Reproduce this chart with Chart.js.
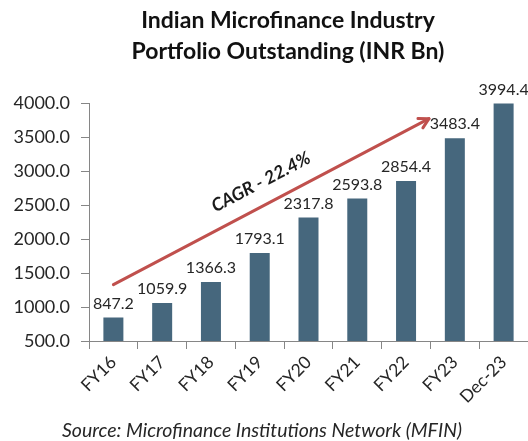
<!DOCTYPE html>
<html>
<head>
<meta charset="utf-8">
<script src="https://cdn.jsdelivr.net/npm/chart.js@4.4.1/dist/chart.umd.min.js"></script>
<style>
  html, body { margin: 0; padding: 0; background: #fff; }
  #wrap { width: 528px; height: 441px; position: relative; }
</style>
</head>
<body>
<div id="wrap"><canvas id="myChart"></canvas></div>
<script>
// Data
const categories = ['FY16', 'FY17', 'FY18', 'FY19', 'FY20', 'FY21', 'FY22', 'FY23', 'Dec-23'];
const portfolio = [847.2, 1059.9, 1366.3, 1793.1, 2317.8, 2593.8, 2854.4, 3483.4, 3994.4];
const yMin = 500;
const yMax = 4000;
const yStep = 500;

const titleLines = ['Indian Microfinance Industry', 'Portfolio Outstanding (INR Bn)'];
const sourceNote = 'Source: Microfinance Institutions Network (MFIN)';
const cagrLabel = 'CAGR - 22.4%';
// arrow anchors in data space: [category index, value]
const cagrFrom = [0, 1330];
const cagrTo = [6.47, 3770];

const textColor = '#262626';
const barColor = '#46677d';
const arrowColor = '#c0504d';
const axisColor = '#868686';

// labels, arrow, title and source drawn on the canvas
const decorations = {
    id: 'decorations',
    afterDatasetsDraw(chart) {
        const ctx = chart.ctx;
        const xs = chart.scales.x;
        const ys = chart.scales.y;

        ctx.save();

        // CAGR arrow
        const x1 = xs.getPixelForValue(cagrFrom[0]);
        const y1 = ys.getPixelForValue(cagrFrom[1]);
        const x2 = xs.getPixelForValue(cagrTo[0]);
        const y2 = ys.getPixelForValue(cagrTo[1]);
        const ang = Math.atan2(y2 - y1, x2 - x1);

        ctx.strokeStyle = arrowColor;
        ctx.lineWidth = 3;
        ctx.lineCap = 'round';
        ctx.lineJoin = 'round';
        ctx.beginPath();
        ctx.moveTo(x1, y1);
        ctx.lineTo(x2, y2);
        ctx.stroke();

        const head = 11;
        ctx.beginPath();
        ctx.moveTo(x2 - head * Math.cos(ang - 0.5), y2 - head * Math.sin(ang - 0.5));
        ctx.lineTo(x2, y2);
        ctx.lineTo(x2 - head * Math.cos(ang + 0.5), y2 - head * Math.sin(ang + 0.5));
        ctx.stroke();

        // CAGR text, above the arrow's midpoint
        const mx = (x1 + x2) / 2 + 22 * Math.sin(ang);
        const my = (y1 + y2) / 2 - 22 * Math.cos(ang);
        ctx.translate(mx, my);
        ctx.rotate(ang);
        ctx.font = 'italic bold 18px Lato';
        ctx.fillStyle = '#1a1a1a';
        ctx.textAlign = 'center';
        ctx.textBaseline = 'middle';
        ctx.fillText(cagrLabel, 0, 0);
        ctx.setTransform(1, 0, 0, 1, 0, 0);

        // value labels
        ctx.font = '16px Lato';
        ctx.fillStyle = textColor;
        ctx.textAlign = 'center';
        ctx.textBaseline = 'middle';
        chart.getDatasetMeta(0).data.forEach((bar, i) => {
            ctx.fillText(portfolio[i].toFixed(1), bar.x, bar.y - 14);
        });

        // title
        ctx.font = 'bold 23px Lato';
        ctx.fillStyle = '#111';
        ctx.textBaseline = 'alphabetic';
        titleLines.forEach((line, i) => {
            ctx.fillText(line, 288, 28 + i * 31);
        });

        // source
        ctx.font = 'italic 19.5px Lato';
        ctx.fillStyle = textColor;
        ctx.fillText(sourceNote, 262, 437);

        ctx.restore();
    }
};

const ctx = document.getElementById('myChart').getContext('2d');
const myChart = new Chart(ctx, {
    type: 'bar',
    data: {
        labels: categories,
        datasets: [{
            label: 'Portfolio Outstanding',
            data: portfolio,
            backgroundColor: barColor,
            barPercentage: 0.41,
            categoryPercentage: 1
        }]
    },
    options: {
        responsive: true,
        maintainAspectRatio: false,
        animation: false,
        layout: { padding: { top: 103, bottom: 31, left: 0, right: 0 } },
        plugins: {
            legend: { display: false },
            tooltip: { enabled: false }
        },
        scales: {
            x: {
                grid: { drawOnChartArea: false, tickLength: 8, color: axisColor },
                border: { color: axisColor },
                ticks: {
                    minRotation: 45,
                    maxRotation: 45,
                    padding: 3,
                    color: textColor,
                    font: { family: 'Lato', size: 17.5 }
                },
                afterFit(scale) { scale.height = 69; }
            },
            y: {
                min: yMin,
                max: yMax,
                grid: { drawOnChartArea: false, tickLength: 8, color: axisColor },
                border: { color: axisColor },
                ticks: {
                    stepSize: yStep,
                    padding: 11,
                    color: textColor,
                    font: { family: 'Lato', size: 18 },
                    callback: v => v.toFixed(1)
                },
                afterFit(scale) { scale.width = 89; }
            }
        }
    },
    plugins: [decorations]
});
</script>
</body>
</html>
